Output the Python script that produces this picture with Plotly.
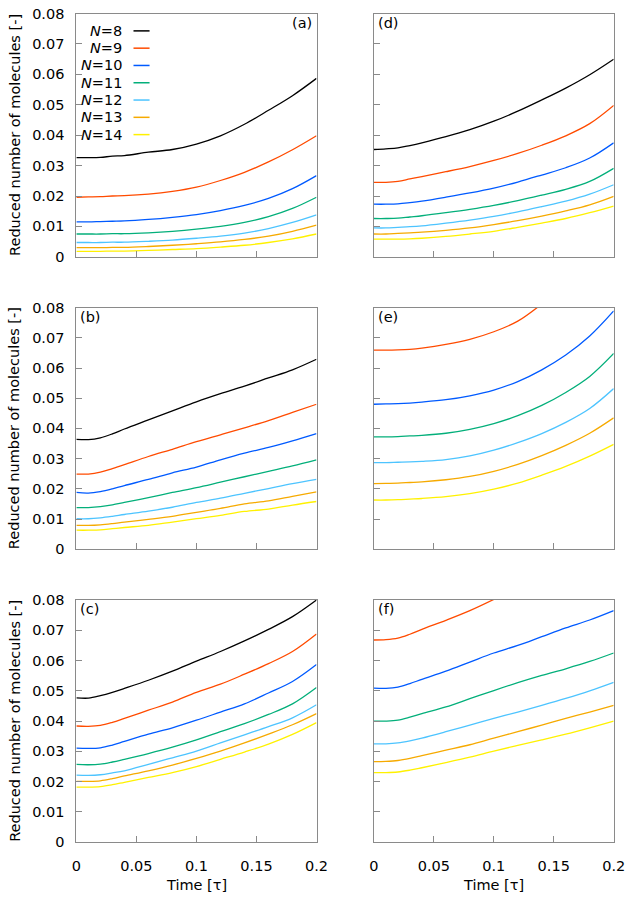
import plotly.graph_objects as go

# time samples [tau]
time = [0.0, 0.01, 0.02, 0.03, 0.04, 0.06, 0.08, 0.10, 0.12, 0.14, 0.16, 0.18, 0.20]

series_names = ["N=8", "N=9", "N=10", "N=11", "N=12", "N=13", "N=14"]
legend_labels = ["<i>N</i>=8", "<i>N</i>=9", "<i>N</i>=10", "<i>N</i>=11",
                 "<i>N</i>=12", "<i>N</i>=13", "<i>N</i>=14"]
colors = ["#000000", "#FF4B00", "#005AFF", "#03AF7A", "#4DC4FF", "#F6AA00", "#FFF100"]

panel_a = [
    [0.0326, 0.0326, 0.0327, 0.0331, 0.0333, 0.0344, 0.0353, 0.0371, 0.0398, 0.0436, 0.0482, 0.0530, 0.0587],
    [0.0196, 0.0197, 0.0198, 0.0200, 0.0201, 0.0206, 0.0215, 0.0229, 0.0251, 0.0278, 0.0312, 0.0352, 0.0398],
    [0.0115, 0.0115, 0.0116, 0.0117, 0.0118, 0.0123, 0.0130, 0.0139, 0.0152, 0.0169, 0.0192, 0.0224, 0.0267],
    [0.0075, 0.0075, 0.0075, 0.0076, 0.0076, 0.0079, 0.0084, 0.0091, 0.0100, 0.0113, 0.0132, 0.0159, 0.0196],
    [0.0047, 0.0047, 0.0047, 0.0048, 0.0048, 0.0051, 0.0055, 0.0061, 0.0068, 0.0078, 0.0093, 0.0113, 0.0138],
    [0.0030, 0.0030, 0.0030, 0.0031, 0.0031, 0.0034, 0.0038, 0.0043, 0.0049, 0.0057, 0.0068, 0.0084, 0.0104],
    [0.0018, 0.0018, 0.0018, 0.0019, 0.0019, 0.0021, 0.0024, 0.0027, 0.0032, 0.0038, 0.0047, 0.0059, 0.0075],
]
panel_b = [
    [0.0364, 0.0363, 0.0369, 0.0382, 0.0398, 0.0428, 0.0458, 0.0488, 0.0515, 0.0540, 0.0567, 0.0594, 0.0629],
    [0.0249, 0.0249, 0.0255, 0.0267, 0.0280, 0.0307, 0.0331, 0.0356, 0.0379, 0.0402, 0.0426, 0.0453, 0.0480],
    [0.0188, 0.0186, 0.0191, 0.0200, 0.0211, 0.0231, 0.0253, 0.0272, 0.0296, 0.0318, 0.0337, 0.0359, 0.0383],
    [0.0138, 0.0138, 0.0141, 0.0147, 0.0155, 0.0171, 0.0188, 0.0204, 0.0222, 0.0240, 0.0258, 0.0276, 0.0296],
    [0.0101, 0.0101, 0.0104, 0.0109, 0.0115, 0.0126, 0.0139, 0.0155, 0.0169, 0.0185, 0.0201, 0.0217, 0.0231],
    [0.0079, 0.0079, 0.0081, 0.0085, 0.0090, 0.0099, 0.0109, 0.0122, 0.0135, 0.0150, 0.0160, 0.0175, 0.0190],
    [0.0063, 0.0063, 0.0064, 0.0068, 0.0072, 0.0079, 0.0090, 0.0101, 0.0112, 0.0125, 0.0133, 0.0146, 0.0158],
]
panel_c = [
    [0.0477, 0.0476, 0.0484, 0.0495, 0.0508, 0.0535, 0.0565, 0.0598, 0.0630, 0.0665, 0.0703, 0.0745, 0.0800],
    [0.0384, 0.0383, 0.0386, 0.0396, 0.0409, 0.0436, 0.0463, 0.0495, 0.0522, 0.0555, 0.0590, 0.0630, 0.0688],
    [0.0311, 0.0310, 0.0312, 0.0321, 0.0333, 0.0357, 0.0378, 0.0403, 0.0430, 0.0457, 0.0493, 0.0531, 0.0587],
    [0.0257, 0.0256, 0.0258, 0.0265, 0.0274, 0.0293, 0.0314, 0.0338, 0.0365, 0.0392, 0.0422, 0.0457, 0.0511],
    [0.0222, 0.0221, 0.0223, 0.0229, 0.0236, 0.0257, 0.0279, 0.0301, 0.0328, 0.0355, 0.0382, 0.0411, 0.0454],
    [0.0201, 0.0201, 0.0203, 0.0210, 0.0219, 0.0236, 0.0255, 0.0277, 0.0301, 0.0328, 0.0357, 0.0388, 0.0425],
    [0.0182, 0.0182, 0.0184, 0.0190, 0.0198, 0.0214, 0.0230, 0.0250, 0.0274, 0.0298, 0.0324, 0.0356, 0.0395],
]
panel_d = [
    [0.0353, 0.0355, 0.0358, 0.0366, 0.0375, 0.0395, 0.0418, 0.0446, 0.0479, 0.0516, 0.0555, 0.0599, 0.0650],
    [0.0245, 0.0245, 0.0248, 0.0256, 0.0264, 0.0280, 0.0297, 0.0317, 0.0340, 0.0367, 0.0398, 0.0438, 0.0498],
    [0.0173, 0.0173, 0.0174, 0.0178, 0.0183, 0.0196, 0.0210, 0.0226, 0.0246, 0.0269, 0.0293, 0.0325, 0.0375],
    [0.0126, 0.0126, 0.0127, 0.0131, 0.0135, 0.0145, 0.0156, 0.0169, 0.0185, 0.0203, 0.0222, 0.0248, 0.0291],
    [0.0095, 0.0095, 0.0097, 0.0099, 0.0102, 0.0111, 0.0121, 0.0133, 0.0148, 0.0165, 0.0183, 0.0206, 0.0237],
    [0.0075, 0.0075, 0.0077, 0.0079, 0.0081, 0.0087, 0.0095, 0.0106, 0.0119, 0.0134, 0.0151, 0.0171, 0.0199],
    [0.0058, 0.0058, 0.0058, 0.0059, 0.0061, 0.0067, 0.0075, 0.0084, 0.0097, 0.0111, 0.0126, 0.0145, 0.0167],
]
panel_e = [
    [],
    [0.0659, 0.0659, 0.0660, 0.0662, 0.0666, 0.0678, 0.0695, 0.0720, 0.0755, 0.0812],
    [0.0480, 0.0481, 0.0482, 0.0484, 0.0487, 0.0495, 0.0508, 0.0527, 0.0555, 0.0594, 0.0643, 0.0706, 0.0789],
    [0.0372, 0.0372, 0.0373, 0.0375, 0.0377, 0.0384, 0.0397, 0.0416, 0.0442, 0.0476, 0.0519, 0.0572, 0.0648],
    [0.0287, 0.0287, 0.0288, 0.0289, 0.0291, 0.0297, 0.0309, 0.0328, 0.0353, 0.0383, 0.0420, 0.0466, 0.0532],
    [0.0217, 0.0218, 0.0219, 0.0221, 0.0223, 0.0230, 0.0241, 0.0258, 0.0281, 0.0310, 0.0344, 0.0384, 0.0435],
    [0.0163, 0.0163, 0.0164, 0.0166, 0.0168, 0.0174, 0.0184, 0.0199, 0.0219, 0.0245, 0.0274, 0.0308, 0.0347],
]
panel_f = [
    [],
    [0.0668, 0.0669, 0.0674, 0.0687, 0.0703, 0.0733, 0.0765, 0.0802],
    [0.0509, 0.0508, 0.0512, 0.0524, 0.0538, 0.0565, 0.0595, 0.0625, 0.0650, 0.0679, 0.0708, 0.0734, 0.0765],
    [0.0400, 0.0400, 0.0403, 0.0413, 0.0425, 0.0447, 0.0474, 0.0501, 0.0527, 0.0551, 0.0573, 0.0597, 0.0625],
    [0.0325, 0.0325, 0.0328, 0.0335, 0.0344, 0.0365, 0.0387, 0.0409, 0.0430, 0.0452, 0.0475, 0.0500, 0.0528],
    [0.0266, 0.0267, 0.0270, 0.0277, 0.0286, 0.0304, 0.0322, 0.0344, 0.0365, 0.0387, 0.0409, 0.0430, 0.0452],
    [0.0230, 0.0230, 0.0232, 0.0238, 0.0246, 0.0263, 0.0281, 0.0301, 0.0320, 0.0338, 0.0357, 0.0378, 0.0400],
]
panel_labels = ["(a)", "(b)", "(c)", "(d)", "(e)", "(f)"]
x_ticks = [0, 0.05, 0.1, 0.15, 0.2]
y_ticks = [0, 0.01, 0.02, 0.03, 0.04, 0.05, 0.06, 0.07, 0.08]

W, H = 640, 903
FONT = "DejaVu Sans"
FS = 14.5
BORDER = "#8a8a8a"

# panel boxes in pixels: (left, right, top, bottom)
cols_px = [(73.3, 320.0), (379.0, 625.3)]
rows_px = [(5.7, 253.3), (305.0, 551.0), (602.7, 849.3)]

panels = [panel_a, panel_b, panel_c, panel_d, panel_e, panel_f]

fig = go.Figure()
layout = {}
annotations = []
shapes = []

for idx, data in enumerate(panels):
    col = idx // 3
    row = idx % 3
    k = idx + 1
    xa = "x" if k == 1 else f"x{k}"
    ya = "y" if k == 1 else f"y{k}"
    for si, vals in enumerate(data):
        if not vals:
            continue
        fig.add_trace(go.Scatter(
            x=time[:len(vals)], y=vals, mode="lines", name=series_names[si],
            line=dict(color=colors[si], width=1.3, shape="spline", smoothing=1.0),
            xaxis=xa, yaxis=ya, showlegend=False, hoverinfo="skip"))
    l, r = cols_px[col]
    t, b = rows_px[row]
    common = dict(showgrid=False, zeroline=False, showline=True, mirror=True,
                  linecolor=BORDER, linewidth=1, ticks="inside", tickcolor=BORDER,
                  tickwidth=1, ticklen=6,
                  tickfont=dict(family=FONT, size=FS, color="#000000"))
    layout["xaxis" if k == 1 else f"xaxis{k}"] = dict(
        common, domain=[l / W, r / W], anchor=ya,
        range=[0, 0.2], tickvals=x_ticks, showticklabels=(row == 2),
        ticklabelstandoff=10)
    layout["yaxis" if k == 1 else f"yaxis{k}"] = dict(
        common, domain=[1 - b / H, 1 - t / H], anchor=xa,
        range=[0, 0.08], tickvals=y_ticks, showticklabels=(col == 0),
        ticklabelstandoff=8)
    # panel label
    if idx == 0:
        annotations.append(dict(text=panel_labels[idx], xref="paper", yref="paper",
                                x=(r - 3) / W, y=1 - (t + 9.5) / H, xanchor="right",
                                yanchor="middle", showarrow=False,
                                font=dict(family=FONT, size=FS, color="#000")))
    else:
        annotations.append(dict(text=panel_labels[idx], xref="paper", yref="paper",
                                x=(l + 2) / W, y=1 - (t + 9.5) / H, xanchor="left",
                                yanchor="middle", showarrow=False,
                                font=dict(family=FONT, size=FS, color="#000")))
    # y title
    if col == 0:
        annotations.append(dict(text="Reduced number of molecules [-]", xref="paper",
                                yref="paper", x=10 / W, y=1 - ((t + b) / 2) / H,
                                xanchor="center", yanchor="middle", textangle=-90,
                                showarrow=False,
                                font=dict(family=FONT, size=FS, color="#000")))
    if row == 2:
        annotations.append(dict(text="Time [τ]", xref="paper", yref="paper",
                                x=((l + r) / 2) / W, y=1 - 893 / H,
                                xanchor="center", yanchor="middle", showarrow=False,
                                font=dict(family=FONT, size=FS, color="#000")))

# legend inside panel (a): text right-aligned, sample line on the right
leg_y0 = 23.3
leg_dy = 17.6
for si, lab in enumerate(legend_labels):
    yy = leg_y0 + si * leg_dy
    annotations.append(dict(text=lab, xref="paper", yref="paper", x=122 / W,
                            y=1 - yy / H, xanchor="right", yanchor="middle",
                            showarrow=False,
                            font=dict(family=FONT, size=FS, color="#000")))
    shapes.append(dict(type="line", xref="paper", yref="paper",
                       x0=132 / W, x1=148.5 / W, y0=1 - yy / H, y1=1 - yy / H,
                       line=dict(color=colors[si], width=1.5)))

fig.update_layout(**layout)
# figure size comes from the page div (640 x 903), pinned to the page's top-left corner
fig.update_layout(autosize=True, margin=dict(l=0, r=0, t=0, b=0),
                  paper_bgcolor="white", plot_bgcolor="white",
                  annotations=annotations, shapes=shapes, showlegend=False,
                  font=dict(family=FONT, size=FS, color="#000"))

fig.write_html("out.html", config={"responsive": False, "displayModeBar": False},
               default_width=f"{W}px; position:absolute; left:0px; top:0px",
               default_height=f"{H}px",
               post_script="document.body.style.margin='0';")
